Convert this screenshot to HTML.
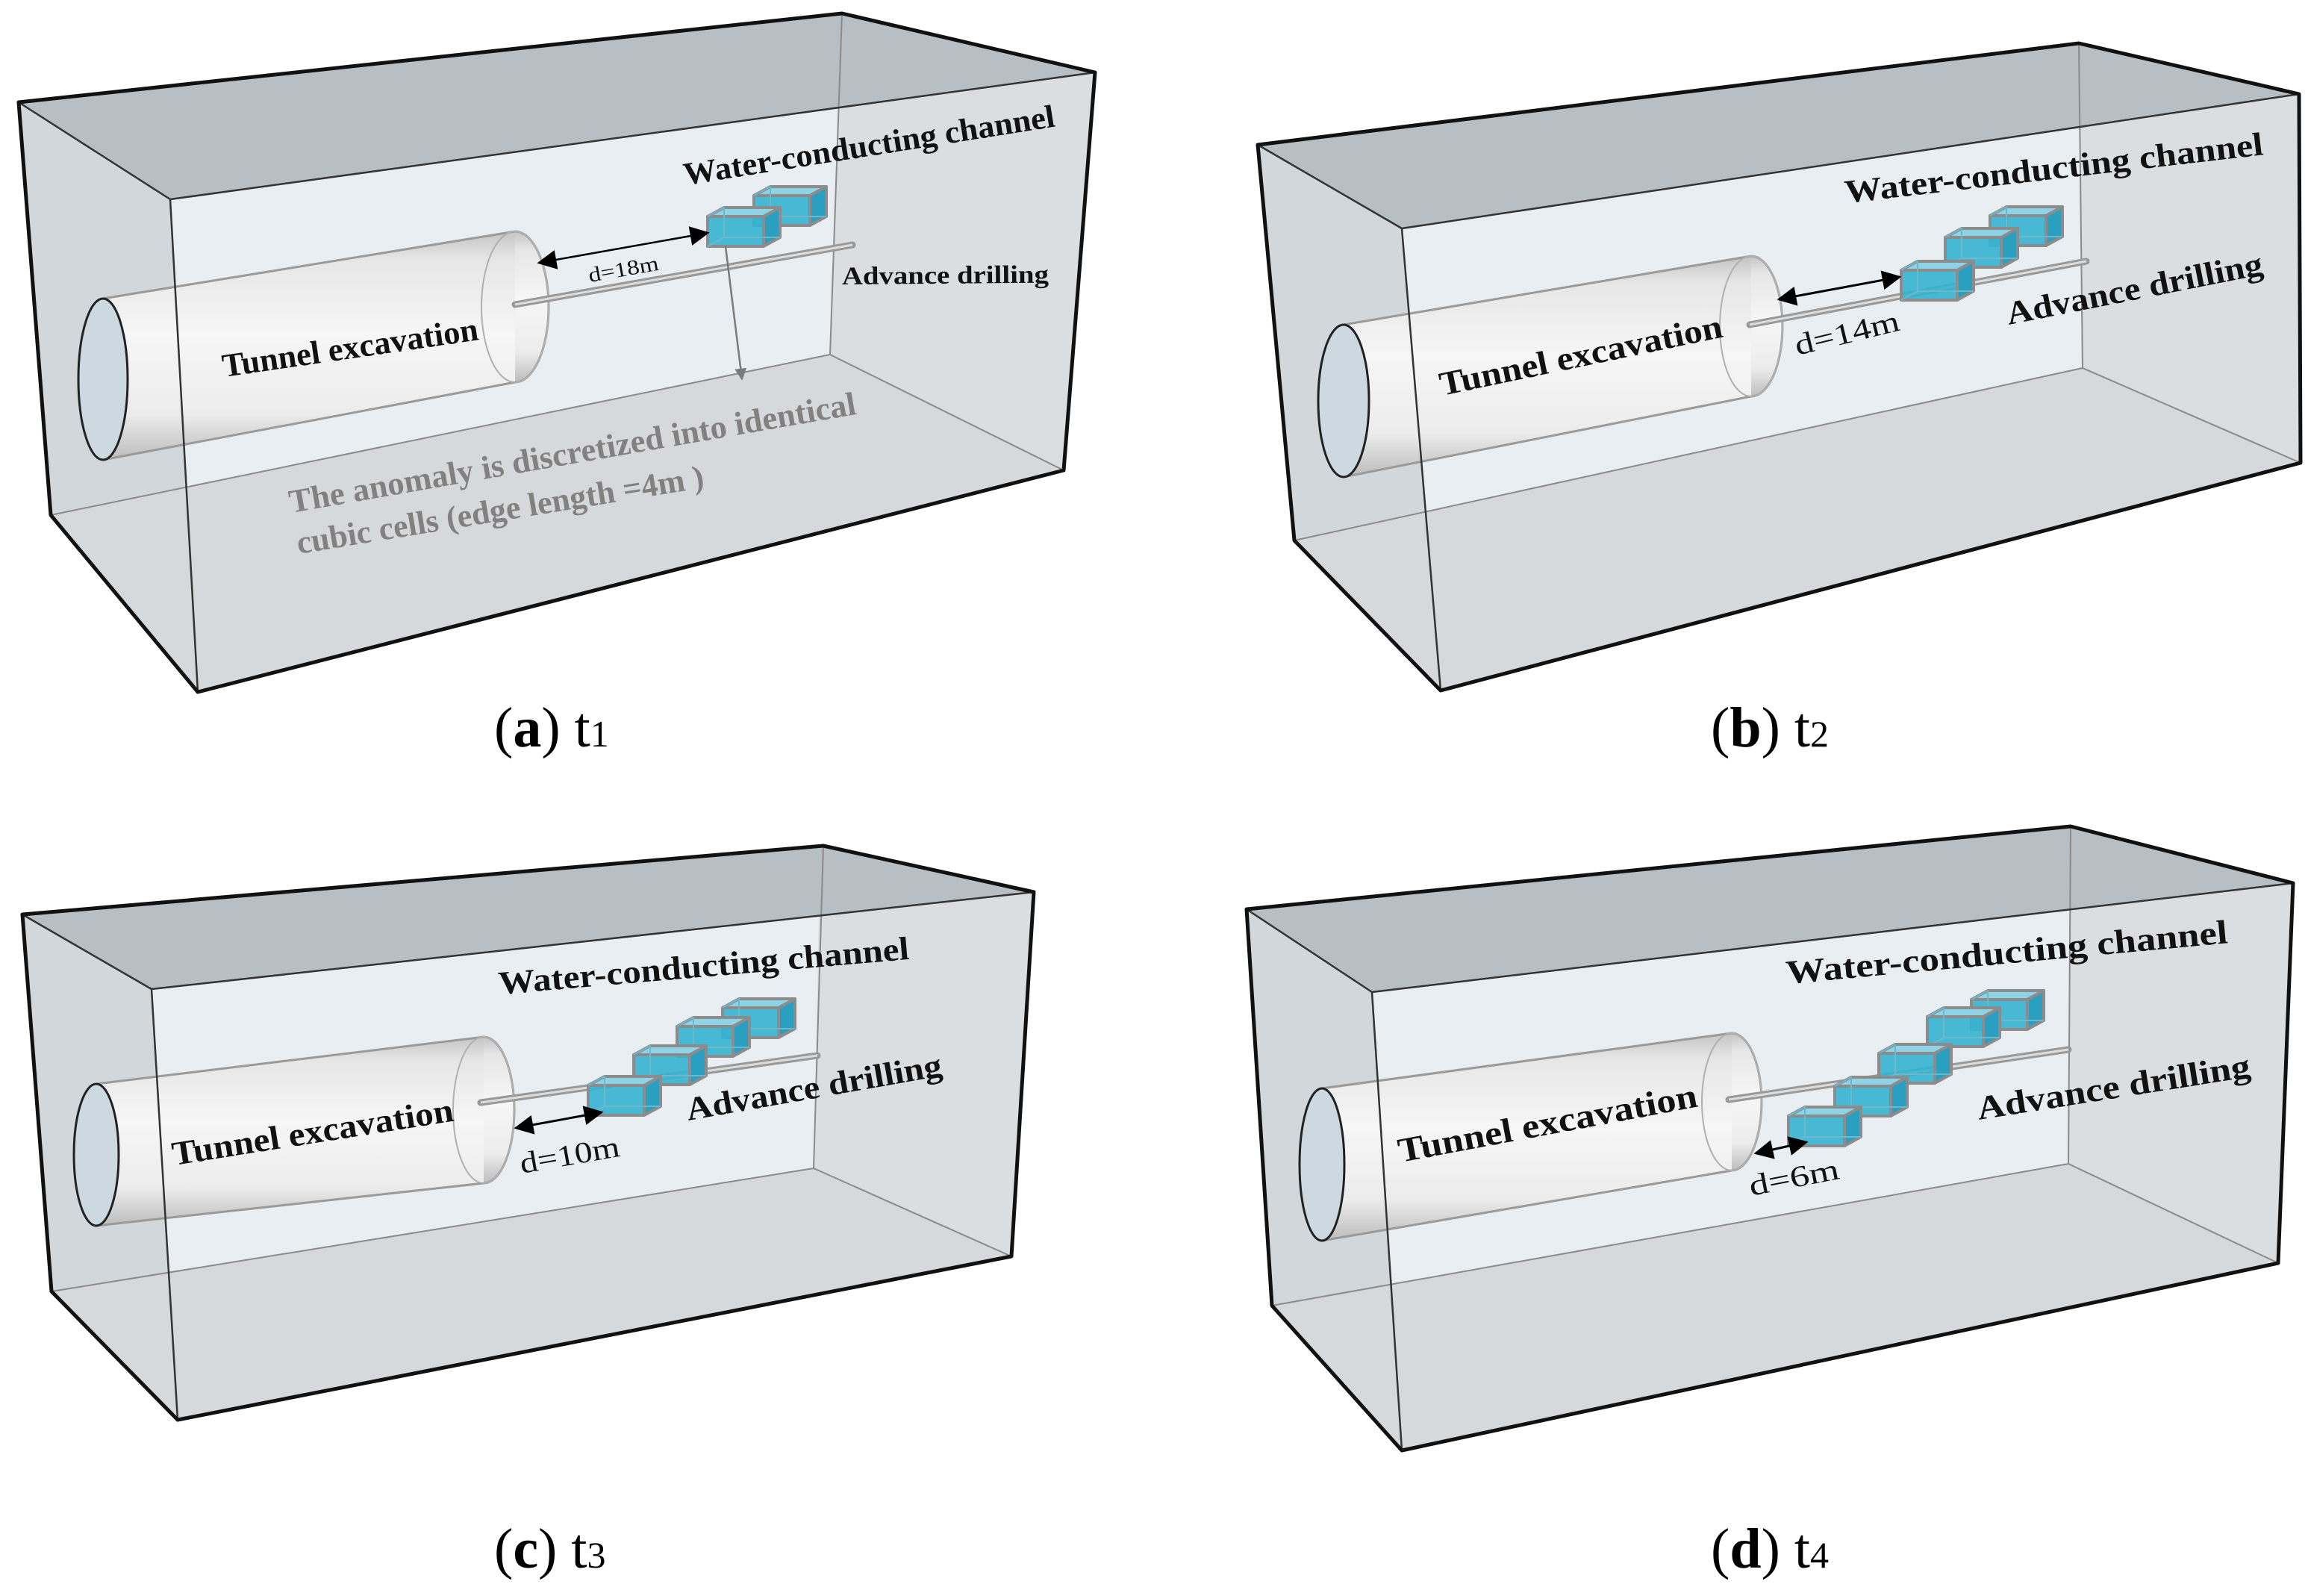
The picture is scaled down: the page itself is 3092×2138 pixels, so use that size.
<!DOCTYPE html>
<html><head><meta charset="utf-8"><style>
html,body{margin:0;padding:0;background:#fff;}
svg{display:block;}
.lb{font-family:"Liberation Serif",serif;font-weight:bold;fill:#111;}
.dm{font-family:"Liberation Serif",serif;fill:#111;}
.gr{font-family:"Liberation Serif",serif;font-weight:bold;fill:#858080;}
.cap{font-family:"Liberation Serif",serif;fill:#000;font-size:76px;}
.sf{fill:#dadee1}.top{fill:#b7bec4}.lf{fill:#d1d7db}.bt{fill:#d5d9dc}.bk{fill:#e9eef3}
.thin{stroke:#8a8a8a;stroke-width:2;fill:none}
.mid{stroke:#333;stroke-width:2.5;fill:none}
.sil{stroke:#111;stroke-width:5;fill:none;stroke-linejoin:round}
</style></head><body>
<svg width="3092" height="2138" viewBox="0 0 3092 2138" xmlns="http://www.w3.org/2000/svg">
<defs>
<linearGradient id="cyl" x1="0" y1="0" x2="0" y2="1">
<stop offset="0" stop-color="#c4c4c4"/><stop offset=".12" stop-color="#e6e6e6"/><stop offset=".45" stop-color="#f6f6f6"/><stop offset=".8" stop-color="#ececec"/><stop offset="1" stop-color="#bdbdbd"/>
</linearGradient>
<marker id="ahb" viewBox="0 0 10 10" refX="9" refY="5" markerWidth="30" markerHeight="26" orient="auto-start-reverse" markerUnits="userSpaceOnUse">
<path d="M0,0 L10,5 L0,10 z" fill="#000"/></marker>
<marker id="ahg" viewBox="0 0 10 10" refX="9" refY="5" markerWidth="16" markerHeight="22" orient="auto" markerUnits="userSpaceOnUse">
<path d="M0,0 L10,5 L0,10 z" fill="#7a7a7a"/></marker>
<g id="cb" stroke="#8c8c8c" stroke-width="4" stroke-linejoin="round">
<polygon points="0,12 22,0 97,0 75,12" fill="#8fd3e6"/>
<polygon points="75,12 97,0 97,40 75,52" fill="#2a9fc0"/>
<polygon points="0,12 75,12 75,52 0,52" fill="#35b2d2" fill-opacity=".9"/>
<polyline points="0,12 22,0 22,40 0,52" fill="none" stroke="#6fb8cc" stroke-width="2"/>
<polyline points="22,40 97,40" fill="none" stroke="#6fb8cc" stroke-width="2"/>
</g>
</defs>

<!-- ===== Panel A ===== -->
<g>
<polygon class="sf" points="25,137 1128,18 1467,97 1425,630 265,927 68,690"/>
<polygon class="top" points="25,137 1128,18 1467,97 228,267"/>
<polygon class="lf" points="25,137 228,267 250,652 68,690"/>
<polygon class="bk" points="228,267 1124,144 1112,475 250,652"/>
<polygon class="bt" points="68,690 1112,475 1425,630 265,927"/>
<line class="thin" x1="1128" y1="18" x2="1112" y2="475"/>
<line class="thin" x1="1112" y1="475" x2="68" y2="690"/>
<line class="thin" x1="1112" y1="475" x2="1425" y2="630"/>
<line class="mid" x1="25" y1="137" x2="228" y2="267"/>
<line class="mid" x1="228" y1="267" x2="1467" y2="97"/>
<ellipse cx="690" cy="411" rx="45" ry="101" fill="url(#cyl)"/>
<polygon points="138,400 690,310 690,512 138,616" fill="url(#cyl)"/>
<line x1="138" y1="400" x2="690" y2="310" stroke="#9a9a9a" stroke-width="3"/>
<line x1="138" y1="616" x2="690" y2="512" stroke="#9a9a9a" stroke-width="3"/>
<path d="M690,310 A45,101 0 0 1 690,512" fill="none" stroke="#9a9a9a" stroke-width="3"/>
<ellipse cx="690" cy="411" rx="45" ry="101" fill="none" stroke="#b0b0b0" stroke-width="2"/>
<ellipse cx="138" cy="508" rx="33" ry="108" fill="#cdd9e1" stroke="#222" stroke-width="3"/>
<line x1="690" y1="408" x2="1142" y2="328" stroke="#999" stroke-width="9" stroke-linecap="round"/>
<line x1="690" y1="408" x2="1142" y2="328" stroke="#ddd" stroke-width="3"/>
<line class="mid" x1="228" y1="267" x2="265" y2="927"/>
<polygon class="sil" points="25,137 1128,18 1467,97 1425,630 265,927 68,690"/>
<use href="#cb" x="1010" y="250"/>
<use href="#cb" x="948" y="278"/>
<line x1="722" y1="352" x2="948" y2="312" stroke="#000" stroke-width="2.5" marker-start="url(#ahb)" marker-end="url(#ahb)"/>
<line x1="972" y1="330" x2="994" y2="508" stroke="#7a7a7a" stroke-width="2.5" marker-end="url(#ahg)"/>
<text class="dm" font-size="28" transform="translate(790,378) rotate(-10)" textLength="95" lengthAdjust="spacingAndGlyphs">d=18m</text>
<text class="lb" font-size="44" transform="translate(300,505) rotate(-8.3)" textLength="346" lengthAdjust="spacingAndGlyphs">Tunnel excavation</text>
<text class="lb" font-size="43" transform="translate(918,248) rotate(-9)" textLength="503" lengthAdjust="spacingAndGlyphs">Water-conducting channel</text>
<text class="lb" font-size="34" transform="translate(1128,381) rotate(-0.5)" textLength="277" lengthAdjust="spacingAndGlyphs">Advance drilling</text>
<text class="gr" font-size="44" transform="translate(390,687) rotate(-9.9)" textLength="770" lengthAdjust="spacingAndGlyphs">The anomaly is discretized into identical</text>
<text class="gr" font-size="44" transform="translate(400,742) rotate(-9.3)" textLength="552" lengthAdjust="spacingAndGlyphs">cubic cells (edge length =4m )</text>
<text class="cap" x="662" y="1000">(<tspan font-weight="bold">a</tspan>) t<tspan font-size="50">1</tspan></text>
</g>

<!-- ===== Panel B ===== -->
<g>
<polygon class="sf" points="1685,194 2785,58 3080,126 3082,620 1930,925 1734,724"/>
<polygon class="top" points="1685,194 2785,58 3080,126 1878,306"/>
<polygon class="lf" points="1685,194 1878,306 1910,688 1734,724"/>
<polygon class="bk" points="1878,306 2787,170 2790,493 1910,686"/>
<polygon class="bt" points="1734,724 2790,493 3082,620 1930,925"/>
<line class="thin" x1="2785" y1="58" x2="2790" y2="493"/>
<line class="thin" x1="2790" y1="493" x2="1734" y2="724"/>
<line class="thin" x1="2790" y1="493" x2="3082" y2="620"/>
<line class="mid" x1="1685" y1="194" x2="1878" y2="306"/>
<line class="mid" x1="1878" y1="306" x2="3080" y2="126"/>
<ellipse cx="2346" cy="437" rx="42" ry="94" fill="url(#cyl)"/>
<polygon points="1800,435 2346,343 2346,531 1800,639" fill="url(#cyl)"/>
<line x1="1800" y1="435" x2="2346" y2="343" stroke="#9a9a9a" stroke-width="3"/>
<line x1="1800" y1="639" x2="2346" y2="531" stroke="#9a9a9a" stroke-width="3"/>
<path d="M2346,343 A42,94 0 0 1 2346,531" fill="none" stroke="#9a9a9a" stroke-width="3"/>
<ellipse cx="2346" cy="437" rx="42" ry="94" fill="none" stroke="#b0b0b0" stroke-width="2"/>
<ellipse cx="1800" cy="537" rx="34" ry="102" fill="#cdd9e1" stroke="#222" stroke-width="3"/>
<line x1="2344" y1="435" x2="2795" y2="350" stroke="#999" stroke-width="9" stroke-linecap="round"/>
<line x1="2344" y1="435" x2="2795" y2="350" stroke="#ddd" stroke-width="3"/>
<line class="mid" x1="1878" y1="306" x2="1930" y2="925"/>
<polygon class="sil" points="1685,194 2785,58 3080,126 3082,620 1930,925 1734,724"/>
<use href="#cb" x="2666" y="277"/>
<use href="#cb" x="2606" y="306"/>
<use href="#cb" x="2547" y="350"/>
<line x1="2383" y1="401" x2="2545" y2="371" stroke="#000" stroke-width="3" marker-start="url(#ahb)" marker-end="url(#ahb)"/>
<text class="dm" font-size="40" transform="translate(2408,476) rotate(-13.7)" textLength="143" lengthAdjust="spacingAndGlyphs">d=14m</text>
<text class="lb" font-size="45" transform="translate(1932,530) rotate(-11.8)" textLength="386" lengthAdjust="spacingAndGlyphs">Tunnel excavation</text>
<text class="lb" font-size="44" transform="translate(2473,272) rotate(-6.6)" textLength="564" lengthAdjust="spacingAndGlyphs">Water-conducting channel</text>
<text class="lb" font-size="44" transform="translate(2691,435) rotate(-11.2)" textLength="349" lengthAdjust="spacingAndGlyphs">Advance drilling</text>
<text class="cap" x="2292" y="1000">(<tspan font-weight="bold">b</tspan>) t<tspan font-size="50">2</tspan></text>
</g>

<!-- ===== Panel C ===== -->
<g>
<polygon class="sf" points="30,1225 1103,1133 1385,1195 1355,1683 238,1902 69,1730"/>
<polygon class="top" points="30,1225 1103,1133 1385,1195 203,1325"/>
<polygon class="lf" points="30,1225 203,1325 226,1706 69,1730"/>
<polygon class="bk" points="203,1325 1097,1227 1090,1565 226,1704"/>
<polygon class="bt" points="69,1730 1090,1565 1355,1683 238,1902"/>
<line class="thin" x1="1103" y1="1133" x2="1090" y2="1565"/>
<line class="thin" x1="1090" y1="1565" x2="69" y2="1730"/>
<line class="thin" x1="1090" y1="1565" x2="1355" y2="1683"/>
<line class="mid" x1="30" y1="1225" x2="203" y2="1325"/>
<line class="mid" x1="203" y1="1325" x2="1385" y2="1195"/>
<g transform="translate(0,20)">
<ellipse cx="648" cy="1467" rx="41" ry="98" fill="url(#cyl)"/>
<polygon points="129,1432 648,1369 648,1565 129,1622" fill="url(#cyl)"/>
<line x1="129" y1="1432" x2="648" y2="1369" stroke="#9a9a9a" stroke-width="3"/>
<line x1="129" y1="1622" x2="648" y2="1565" stroke="#9a9a9a" stroke-width="3"/>
<path d="M648,1369 A41,98 0 0 1 648,1565" fill="none" stroke="#9a9a9a" stroke-width="3"/>
<ellipse cx="648" cy="1467" rx="41" ry="98" fill="none" stroke="#b0b0b0" stroke-width="2"/>
<ellipse cx="129" cy="1527" rx="30" ry="95" fill="#cdd9e1" stroke="#222" stroke-width="3"/>
<line x1="644" y1="1457" x2="1095" y2="1394" stroke="#999" stroke-width="9" stroke-linecap="round"/>
<line x1="644" y1="1457" x2="1095" y2="1394" stroke="#ddd" stroke-width="3"/>
</g>
<line class="mid" x1="203" y1="1325" x2="238" y2="1902"/>
<polygon class="sil" points="30,1225 1103,1133 1385,1195 1355,1683 238,1902 69,1730"/>
<g transform="translate(0,20)">
<use href="#cb" x="968" y="1318"/>
<use href="#cb" x="907" y="1343"/>
<use href="#cb" x="849" y="1381"/>
<use href="#cb" x="788" y="1422"/>
<line x1="691" y1="1491" x2="806" y2="1470" stroke="#000" stroke-width="3" marker-start="url(#ahb)" marker-end="url(#ahb)"/>
<text class="dm" font-size="40" transform="translate(699,1552) rotate(-10)" textLength="135" lengthAdjust="spacingAndGlyphs">d=10m</text>
<text class="lb" font-size="45" transform="translate(233,1541) rotate(-9)" textLength="381" lengthAdjust="spacingAndGlyphs">Tunnel excavation</text>
<text class="lb" font-size="44" transform="translate(669,1312) rotate(-4.9)" textLength="552" lengthAdjust="spacingAndGlyphs">Water-conducting channel</text>
<text class="lb" font-size="44" transform="translate(922,1481) rotate(-10)" textLength="347" lengthAdjust="spacingAndGlyphs">Advance drilling</text>
</g>
<text class="cap" x="662" y="2100">(<tspan font-weight="bold">c</tspan>) t<tspan font-size="50">3</tspan></text>
</g>

<!-- ===== Panel D ===== -->
<g>
<polygon class="sf" points="1670,1218 2774,1107 3072,1183 3052,1692 1878,1943 1704,1749"/>
<polygon class="top" points="1670,1218 2774,1107 3072,1183 1838,1329"/>
<polygon class="lf" points="1670,1218 1838,1329 1864,1724 1704,1749"/>
<polygon class="bk" points="1838,1329 2773,1218 2771,1559 1864,1722"/>
<polygon class="bt" points="1704,1749 2771,1559 3052,1692 1878,1943"/>
<line class="thin" x1="2774" y1="1107" x2="2771" y2="1559"/>
<line class="thin" x1="2771" y1="1559" x2="1704" y2="1749"/>
<line class="thin" x1="2771" y1="1559" x2="3052" y2="1692"/>
<line class="mid" x1="1670" y1="1218" x2="1838" y2="1329"/>
<line class="mid" x1="1838" y1="1329" x2="3072" y2="1183"/>
<ellipse cx="2320" cy="1476" rx="40" ry="92" fill="url(#cyl)"/>
<polygon points="1771,1458 2320,1384 2320,1568 1771,1662" fill="url(#cyl)"/>
<line x1="1771" y1="1458" x2="2320" y2="1384" stroke="#9a9a9a" stroke-width="3"/>
<line x1="1771" y1="1662" x2="2320" y2="1568" stroke="#9a9a9a" stroke-width="3"/>
<path d="M2320,1384 A40,92 0 0 1 2320,1568" fill="none" stroke="#9a9a9a" stroke-width="3"/>
<ellipse cx="2320" cy="1476" rx="40" ry="92" fill="none" stroke="#b0b0b0" stroke-width="2"/>
<ellipse cx="1771" cy="1560" rx="30" ry="102" fill="#cdd9e1" stroke="#222" stroke-width="3"/>
<line x1="2316" y1="1473" x2="2771" y2="1406" stroke="#999" stroke-width="9" stroke-linecap="round"/>
<line x1="2316" y1="1473" x2="2771" y2="1406" stroke="#ddd" stroke-width="3"/>
<line class="mid" x1="1838" y1="1329" x2="1878" y2="1943"/>
<polygon class="sil" points="1670,1218 2774,1107 3072,1183 3052,1692 1878,1943 1704,1749"/>
<use href="#cb" x="2641" y="1327"/>
<use href="#cb" x="2582" y="1350"/>
<use href="#cb" x="2517" y="1399"/>
<use href="#cb" x="2458" y="1443"/>
<use href="#cb" x="2396" y="1483"/>
<line x1="2352" y1="1545" x2="2420" y2="1530" stroke="#000" stroke-width="3" marker-start="url(#ahb)" marker-end="url(#ahb)"/>
<text class="dm" font-size="40" transform="translate(2346,1602) rotate(-11)" textLength="122" lengthAdjust="spacingAndGlyphs">d=6m</text>
<text class="lb" font-size="46" transform="translate(1876,1557) rotate(-10.6)" textLength="407" lengthAdjust="spacingAndGlyphs">Tunnel excavation</text>
<text class="lb" font-size="45" transform="translate(2394,1318) rotate(-5.3)" textLength="594" lengthAdjust="spacingAndGlyphs">Water-conducting channel</text>
<text class="lb" font-size="45" transform="translate(2651,1500) rotate(-9)" textLength="370" lengthAdjust="spacingAndGlyphs">Advance drilling</text>
<text class="cap" x="2292" y="2100">(<tspan font-weight="bold">d</tspan>) t<tspan font-size="50">4</tspan></text>
</g>
</svg>
</body></html>
